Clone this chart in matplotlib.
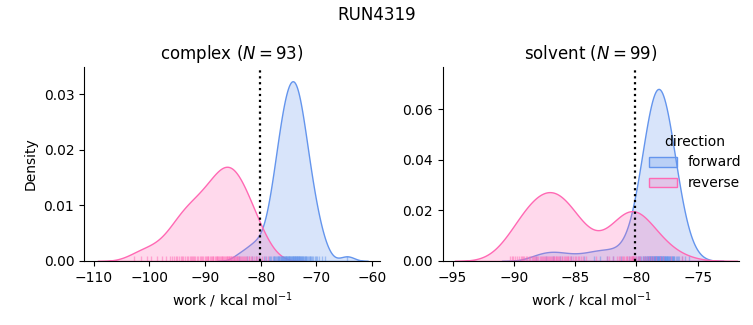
import numpy as np
import matplotlib
matplotlib.use("Agg")
import matplotlib.pyplot as plt
from matplotlib.patches import Patch

complex_forward = [
    -84.0, -82.5, -81.6, -80.9, -80.3,
    -79.4, -79.0,
    -78.6, -78.3, -78.1, -77.9,
    -77.7, -77.55, -77.4, -77.25, -77.1, -76.95, -76.85,
    -76.75, -76.65, -76.55, -76.45, -76.35, -76.25, -76.15, -76.05, -75.95, -75.85,
    -75.77, -75.7, -75.62, -75.55, -75.47, -75.4, -75.32, -75.25, -75.17, -75.1,
    -75.02, -74.95, -74.87,
    -74.75, -74.68, -74.6, -74.52, -74.45, -74.38, -74.3, -74.22, -74.15, -74.07,
    -74.0, -73.93, -73.86, -73.81,
    -73.73, -73.66, -73.58, -73.51, -73.43, -73.36, -73.28, -73.21, -73.13, -73.06,
    -72.98, -72.91, -72.84,
    -72.75, -72.65, -72.55, -72.45, -72.35, -72.25, -72.15, -72.05, -71.95, -71.85,
    -71.7, -71.55, -71.4, -71.25, -71.1, -70.95, -70.85,
    -70.6, -70.35, -70.1, -69.9,
    -69.5, -69.1,
    -68.4,
    -64.5,
]
complex_reverse = [
    -102.8,
    -101.6, -100.4,
    -99.7, -98.6,
    -97.8, -97.0, -96.4,
    -95.9, -95.6, -95.3, -95.0, -94.7, -94.4, -94.1,
    -93.9, -93.6, -93.3, -93.0, -92.8, -92.6, -92.4, -92.2, -92.0,
    -91.8, -91.5, -91.3, -91.0, -90.7, -90.5, -90.3, -90.1,
    -89.9, -89.7, -89.5, -89.4, -89.2, -89.0, -88.8, -88.6, -88.5, -88.3, -88.1,
    -87.95, -87.8, -87.65, -87.5, -87.35, -87.2, -87.05, -86.9, -86.75, -86.6,
    -86.45, -86.3, -86.15, -86.05,
    -85.95, -85.8, -85.7, -85.55, -85.4, -85.3, -85.15, -85.0, -84.9, -84.75,
    -84.6, -84.5, -84.35, -84.2, -84.05,
    -83.9, -83.7, -83.5, -83.3, -83.15, -82.95, -82.8, -82.6, -82.4, -82.2, -82.05,
    -81.8, -81.5, -81.2, -80.9, -80.6, -80.3,
    -79.8, -79.3, -78.7,
]
solvent_forward = [
    -88.2, -87.4, -86.8, -86.2, -85.3, -84.3, -83.5, -83.0, -82.4, -81.9, -81.3,
    -80.6,
    -80.3, -80.05,
    -79.9, -79.8, -79.7, -79.6, -79.5,
    -79.43, -79.38, -79.33, -79.28, -79.23, -79.18, -79.13, -79.08, -79.03, -78.99, -78.96,
    -78.93, -78.9, -78.87, -78.84, -78.8, -78.77, -78.74, -78.71, -78.67, -78.64,
    -78.61, -78.58, -78.55, -78.52, -78.49, -78.46,
    -78.44, -78.41, -78.38, -78.36, -78.33, -78.3, -78.27, -78.24, -78.21, -78.19,
    -78.16, -78.13, -78.1, -78.07, -78.04, -78.02, -77.99, -77.96,
    -77.93, -77.9, -77.87, -77.84, -77.8, -77.77, -77.74, -77.71, -77.67, -77.64,
    -77.61, -77.58, -77.55, -77.52, -77.49, -77.46,
    -77.43, -77.38, -77.33, -77.28, -77.23, -77.18, -77.13, -77.08, -77.03, -76.99, -76.96,
    -76.9, -76.8, -76.7, -76.6, -76.5,
    -76.3, -76.05,
    -75.7,
]
solvent_reverse = [
    -90.3, -90.15, -90.05, -89.9, -89.75, -89.6,
    -89.45, -89.35, -89.25, -89.15, -89.05, -88.95, -88.8, -88.7, -88.55,
    -88.45, -88.35, -88.25, -88.2, -88.1, -88.0, -87.9, -87.8, -87.7, -87.6, -87.55,
    -87.45, -87.4, -87.3, -87.2, -87.15, -87.05, -87.0, -86.9, -86.8, -86.75, -86.7,
    -86.6, -86.55,
    -86.45, -86.4, -86.3, -86.2, -86.1, -86.05, -85.95, -85.85, -85.75, -85.7, -85.6, -85.55,
    -85.45, -85.3, -85.2, -85.05, -84.95, -84.8, -84.7, -84.55,
    -84.4, -84.1,
    -83.3,
    -82.4, -82.2, -81.9, -81.6,
    -81.45, -81.35, -81.2, -81.1, -81.0, -80.85, -80.8, -80.75, -80.6,
    -80.5, -80.45, -80.4, -80.4, -80.35, -80.3, -80.25, -80.2, -80.1, -80.0, -79.9, -79.8, -79.7,
    -79.45, -79.3, -79.15, -79.0, -78.85, -78.65,
    -78.4, -78.1, -77.8,
    -77.2,
    -76.3,
]

phases = ["complex", "solvent"]
directions = ["forward", "reverse"]
works = {
    ("complex", "forward"): complex_forward,
    ("complex", "reverse"): complex_reverse,
    ("solvent", "forward"): solvent_forward,
    ("solvent", "reverse"): solvent_reverse,
}
colors = {"forward": "#6495ED", "reverse": "#FF69B4"}
ref_line = -80.1

n_total = sum(len(v) for v in works.values())


def kde(values, cut=3, gridsize=200):
    v = np.asarray(values, dtype=float)
    bw = v.std(ddof=1) * len(v) ** (-1 / 5)
    xs = np.linspace(v.min() - cut * bw, v.max() + cut * bw, gridsize)
    z = (xs[:, None] - v[None, :]) / bw
    dens = np.exp(-0.5 * z ** 2).sum(axis=1) / (bw * np.sqrt(2 * np.pi))
    return xs, dens / n_total


fig = plt.figure(figsize=(7.53, 3.25), dpi=100)
axes = [fig.add_axes([0.1116, 0.197, 0.393, 0.597]),
        fig.add_axes([0.588, 0.197, 0.394, 0.597])]

xlims = [(-111.75, -58.6), (-95.8, -71.6)]
ylims = [(0, 0.0349), (0, 0.0767)]
xticks = [np.arange(-110, -59, 10), np.arange(-95, -74, 5)]
yticks = [[0, 0.01, 0.02, 0.03], [0, 0.02, 0.04, 0.06]]

for ax, phase, xl, yl, xt, yt in zip(axes, phases, xlims, ylims, xticks, yticks):
    n = len(works[(phase, "forward")])
    for d in directions:
        vals = works[(phase, d)]
        xs, dens = kde(vals)
        ax.fill_between(xs, 0, dens, facecolor=matplotlib.colors.to_rgba(colors[d], 0.25),
                        edgecolor=colors[d], linewidth=1)
        # rug
        ax.vlines(vals, 0, 0.025, transform=ax.get_xaxis_transform(),
                  color=colors[d], alpha=0.5, linewidth=1)
    ax.axvline(ref_line, color="black", linestyle=":", linewidth=1.6)
    ax.set_xlim(*xl)
    ax.set_ylim(*yl)
    ax.set_xticks(xt)
    ax.set_yticks(yt)
    ax.set_yticklabels([f"{t:.2f}" for t in yt])
    ax.set_title(f"{phase} ($N = {n}$)")
    ax.set_xlabel("work / kcal mol$^{-1}$")
    ax.spines["top"].set_visible(False)
    ax.spines["right"].set_visible(False)

axes[0].set_ylabel("Density")

handles = [Patch(facecolor=matplotlib.colors.to_rgba(colors[d], 0.25), edgecolor=colors[d])
           for d in directions]
fig.legend(handles, directions, title="direction", loc="center left",
           bbox_to_anchor=(0.845, 0.50), frameon=False)

fig.suptitle("RUN4319")
fig.savefig("out.png", dpi=100)
